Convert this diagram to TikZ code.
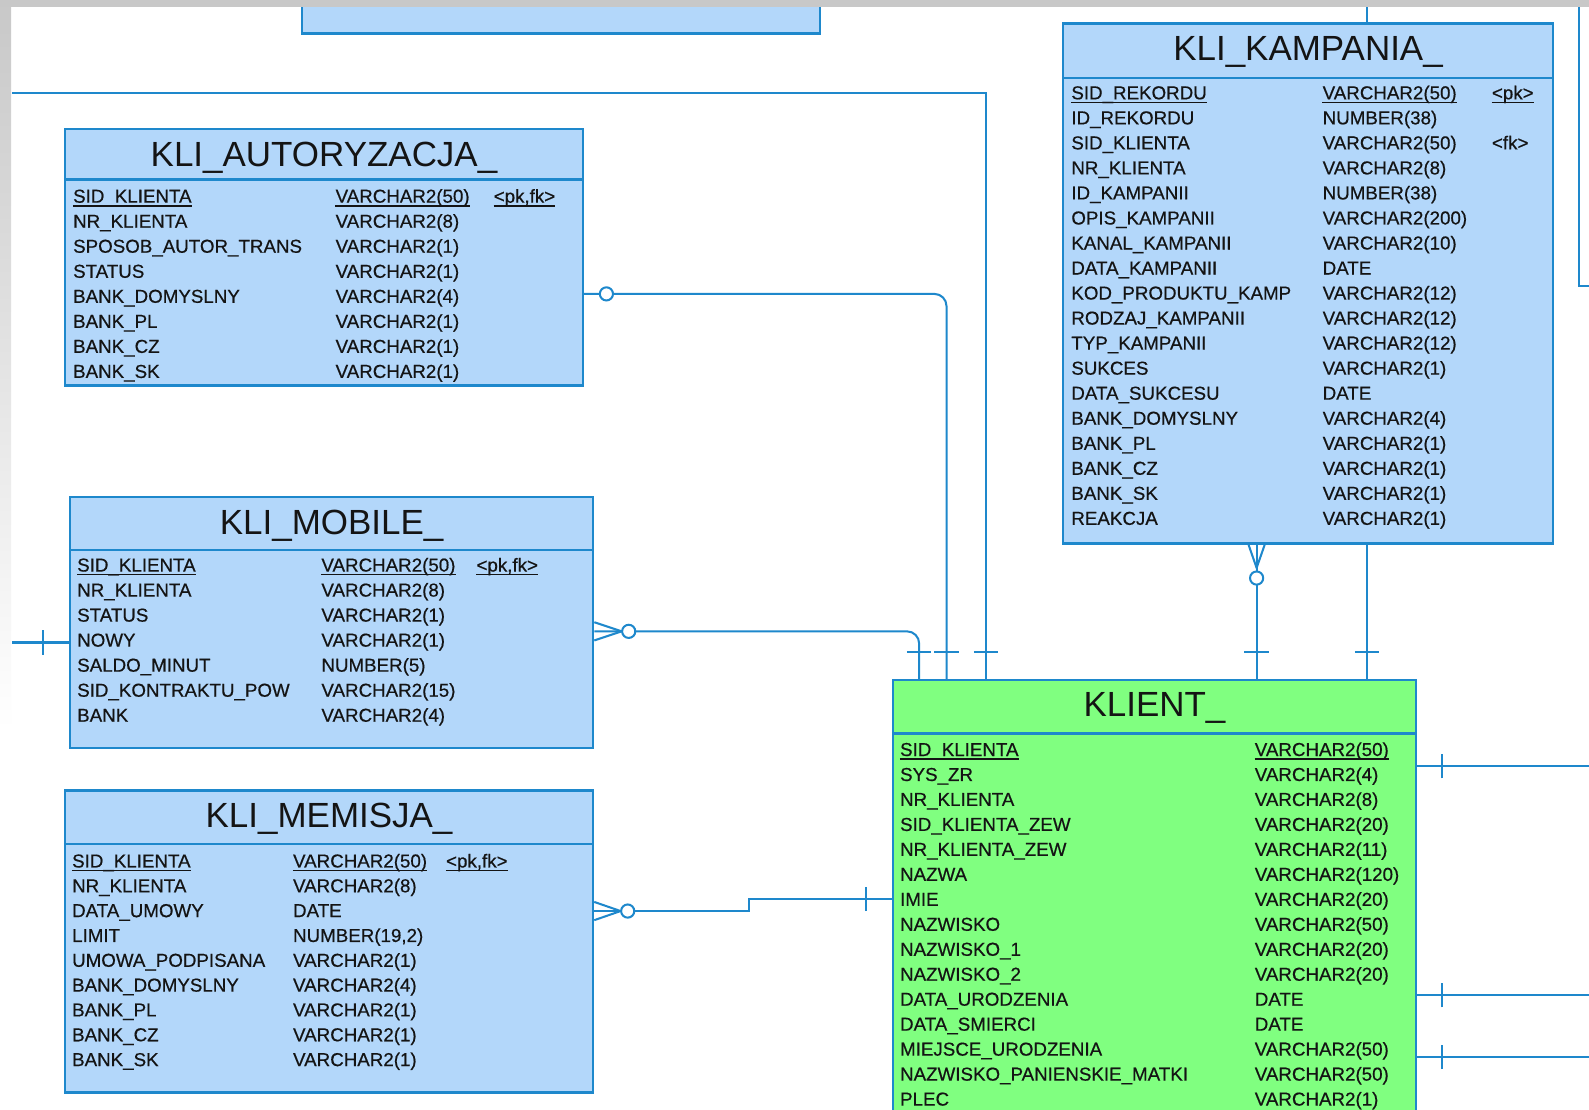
\documentclass[tikz,border=0pt]{standalone}
\usepackage{fontspec}
\setmainfont{Liberation Sans}
\newfontfamily\rowfont[FakeBold=0.5]{Liberation Sans}
\usetikzlibrary{calc}

\definecolor{tblfill}{RGB}{179,215,250}
\definecolor{tblline}{RGB}{30,136,204}
\definecolor{klfill}{RGB}{128,255,128}
\definecolor{chrome}{RGB}{200,200,200}
\definecolor{txt}{RGB}{20,20,20}

\tikzset{
  tbl/.style={draw=tblline, line width=2.4pt, fill=tblfill, inner sep=0pt, anchor=north west},
  kltbl/.style={tbl, fill=klfill},
  sep/.style={draw=tblline, line width=2.4pt},
  ttl/.style={inner sep=0pt, anchor=base, font=\fontsize{34.5}{38}\selectfont, text=txt},
  fld/.style={inner sep=0pt, anchor=base west, font=\rowfont\fontsize{18.5}{22}\selectfont, text=txt},
  conn/.style={draw=tblline, line width=2pt},
  ul/.style={draw=txt, line width=1.6pt},
  zero/.style={circle, draw=tblline, fill=white, line width=2pt, minimum size=13pt, inner sep=0pt},
}

% rows of a table: prefix, table node, name column, type column, first baseline, row pitch, list
\newcommand\fieldrows[7]{%
  \foreach \a/\b [count=\i] in {#7} {
    \node[fld] (#1-n\i) at ($(#2.north west)+(#3,#5+#6*\i)$) {\a};
    \node[fld] (#1-t\i) at ($(#2.north west)+(#4,#5+#6*\i)$) {\b};
  }}
\newcommand\pkline[1]{\draw[ul] ([yshift=-3pt]#1.base west) -- ([yshift=-3pt]#1.base east);}
\newcommand\barH[2]{\draw[conn] ([xshift=-12pt,yshift=#2]#1) -- ([xshift=12pt,yshift=#2]#1);}
\newcommand\barV[2]{\draw[conn] ([xshift=#2,yshift=-12pt]#1) -- ([xshift=#2,yshift=12pt]#1);}

\begin{document}
\begin{tikzpicture}[x=1pt,y=-1pt]
\useasboundingbox (0,0) rectangle (1568,1095);
\clip (0,0) rectangle (1568,1095);
\fill[white] (0,0) rectangle (1568,1095);

% ---- tables ----
\node[tbl, minimum width=511pt, minimum height=60pt] (upper) at (297,-28) {};

% KLI_AUTORYZACJA_
\node[tbl, minimum width=511pt, minimum height=253pt] (aut) at (63,126) {};
\draw[sep] ([yshift=-51pt]aut.north west) -- ([yshift=-51pt]aut.north east);
\node[ttl] (aut-h) at ([yshift=-38pt]aut.north) {KLI\_AUTORYZACJA\_};
\node[fld] (aut-n0) at ($(aut.north west)+(9,74)$) {SID\_KLIENTA};
\node[fld] (aut-t0) at ($(aut.north west)+(268,74)$) {VARCHAR2(50)};
\node[fld] (aut-k0) at ($(aut.north west)+(424,74)$) {<pk,fk>};
\pkline{aut-n0}\pkline{aut-t0}\pkline{aut-k0}
\fieldrows{aut}{aut}{9}{268}{74}{24.7}{NR\_KLIENTA/VARCHAR2(8), SPOSOB\_AUTOR\_TRANS/VARCHAR2(1), STATUS/VARCHAR2(1), BANK\_DOMYSLNY/VARCHAR2(4), BANK\_PL/VARCHAR2(1), BANK\_CZ/VARCHAR2(1), BANK\_SK/VARCHAR2(1)}

% KLI_MOBILE_
\node[tbl, minimum width=516pt, minimum height=248pt] (mob) at (68,489) {};
\draw[sep] ([yshift=-54pt]mob.north west) -- ([yshift=-54pt]mob.north east);
\node[ttl] (mob-h) at ([yshift=-38pt]mob.north) {KLI\_MOBILE\_};
\node[fld] (mob-n0) at ($(mob.north west)+(8,75)$) {SID\_KLIENTA};
\node[fld] (mob-t0) at ($(mob.north west)+(249,75)$) {VARCHAR2(50)};
\node[fld] (mob-k0) at ($(mob.north west)+(402,75)$) {<pk,fk>};
\pkline{mob-n0}\pkline{mob-t0}\pkline{mob-k0}
\fieldrows{mob}{mob}{8}{249}{75}{24.7}{NR\_KLIENTA/VARCHAR2(8), STATUS/VARCHAR2(1), NOWY/VARCHAR2(1), SALDO\_MINUT/NUMBER(5), SID\_KONTRAKTU\_POW/VARCHAR2(15), BANK/VARCHAR2(4)}

% KLI_MEMISJA_
\node[tbl, minimum width=521pt, minimum height=298pt] (mem) at (63,779) {};
\draw[sep] ([yshift=-54pt]mem.north west) -- ([yshift=-54pt]mem.north east);
\node[ttl] (mem-h) at ([yshift=-38pt]mem.north) {KLI\_MEMISJA\_};
\node[fld] (mem-n0) at ($(mem.north west)+(8,77)$) {SID\_KLIENTA};
\node[fld] (mem-t0) at ($(mem.north west)+(226,77)$) {VARCHAR2(50)};
\node[fld] (mem-k0) at ($(mem.north west)+(377,77)$) {<pk,fk>};
\pkline{mem-n0}\pkline{mem-t0}\pkline{mem-k0}
\fieldrows{mem}{mem}{8}{226}{77}{24.5}{NR\_KLIENTA/VARCHAR2(8), DATA\_UMOWY/DATE, LIMIT/{NUMBER(19,2)}, UMOWA\_PODPISANA/VARCHAR2(1), BANK\_DOMYSLNY/VARCHAR2(4), BANK\_PL/VARCHAR2(1), BANK\_CZ/VARCHAR2(1), BANK\_SK/VARCHAR2(1)}

% KLI_KAMPANIA_
\node[tbl, minimum width=483pt, minimum height=513pt] (kamp) at (1048,22) {};
\draw[sep] ([yshift=-55pt]kamp.north west) -- ([yshift=-55pt]kamp.north east);
\node[ttl] (kamp-h) at ([yshift=-38pt]kamp.north) {KLI\_KAMPANIA\_};
\node[fld] (kamp-n0) at ($(kamp.north west)+(9,76)$) {SID\_REKORDU};
\node[fld] (kamp-t0) at ($(kamp.north west)+(257,76)$) {VARCHAR2(50)};
\node[fld] (kamp-k0) at ($(kamp.north west)+(424,76)$) {<pk>};
\pkline{kamp-n0}\pkline{kamp-t0}\pkline{kamp-k0}
\fieldrows{kamp}{kamp}{9}{257}{76}{24.7}{ID\_REKORDU/NUMBER(38), SID\_KLIENTA/VARCHAR2(50), NR\_KLIENTA/VARCHAR2(8), ID\_KAMPANII/NUMBER(38), OPIS\_KAMPANII/VARCHAR2(200), KANAL\_KAMPANII/VARCHAR2(10), DATA\_KAMPANII/DATE, KOD\_PRODUKTU\_KAMP/VARCHAR2(12), RODZAJ\_KAMPANII/VARCHAR2(12), TYP\_KAMPANII/VARCHAR2(12), SUKCES/VARCHAR2(1), DATA\_SUKCESU/DATE, BANK\_DOMYSLNY/VARCHAR2(4), BANK\_PL/VARCHAR2(1), BANK\_CZ/VARCHAR2(1), BANK\_SK/VARCHAR2(1), REAKCJA/VARCHAR2(1)}
\node[fld] (kamp-k2) at ($(kamp.north west)+(424,76+2*24.7)$) {<fk>};

% KLIENT_
\node[kltbl, minimum width=516pt, minimum height=460pt] (kl) at (880,670) {};
\draw[sep] ([yshift=-54pt]kl.north west) -- ([yshift=-54pt]kl.north east);
\node[ttl] (kl-h) at ([yshift=-37pt]kl.north) {KLIENT\_};
\node[fld] (kl-n0) at ($(kl.north west)+(8,76)$) {SID\_KLIENTA};
\node[fld] (kl-t0) at ($(kl.north west)+(358,76)$) {VARCHAR2(50)};
\pkline{kl-n0}\pkline{kl-t0}
\fieldrows{kl}{kl}{8}{358}{76}{24.64}{SYS\_ZR/VARCHAR2(4), NR\_KLIENTA/VARCHAR2(8), SID\_KLIENTA\_ZEW/VARCHAR2(20), NR\_KLIENTA\_ZEW/VARCHAR2(11), NAZWA/VARCHAR2(120), IMIE/VARCHAR2(20), NAZWISKO/VARCHAR2(50), NAZWISKO\_1/VARCHAR2(20), NAZWISKO\_2/VARCHAR2(20), DATA\_URODZENIA/DATE, DATA\_SMIERCI/DATE, MIEJSCE\_URODZENIA/VARCHAR2(50), NAZWISKO\_PANIENSKIE\_MATKI/VARCHAR2(50), PLEC/VARCHAR2(1)}

% ---- attachment points ----
\coordinate (kt1) at ([xshift=27pt]kl.north west);
\coordinate (kt2) at ([xshift=54pt]kl.north west);
\coordinate (kt3) at ([xshift=93pt]kl.north west);
\coordinate (kt4) at ([xshift=360pt]kl.north west);
\coordinate (kt5) at ([xshift=469pt]kl.north west);
\coordinate (kb4) at (kt4 |- kamp.south);
\coordinate (kb5) at (kt5 |- kamp.south);
\coordinate (a-out) at ($(aut.north east)+(0,164)$);
\coordinate (m-out) at ($(mob.north east)+(0,134)$);
\coordinate (e-out) at ($(mem.north east)+(0,120)$);
\coordinate (kl-in) at ($(kl.north west)+(0,217)$);
\coordinate (top-w) at (12,92);
\coordinate (mob-w) at (12,634);
\coordinate (r-top) at (1558,0);
\coordinate (r-end) at (1572,282);

% ---- relationships ----
% long line along the top into KLIENT_
\draw[conn] (top-w) -| (kt3);
\barH{kt3}{27pt}

% KLI_AUTORYZACJA_ -> KLIENT_
\draw[conn, rounded corners=12pt] (a-out) -| (kt2);
\node[zero] (aut-z) at ([xshift=22pt]a-out) {};
\barH{kt2}{27pt}

% KLI_MOBILE_ -> KLIENT_
\draw[conn, rounded corners=12pt] (m-out) -| (kt1);
\draw[conn] ([yshift=9pt]m-out) -- ([xshift=27pt]m-out) -- ([yshift=-9pt]m-out);
\node[zero] (mob-z) at ([xshift=34pt]m-out) {};
\barH{kt1}{27pt}

% KLI_MOBILE_ from the left
\draw[conn] (mob-w) -- (mob.west |- mob-w);
\barV{mob-w}{30pt}

% KLI_MEMISJA_ -> KLIENT_
\draw[conn] (e-out) -- ([xshift=153pt]e-out) |- (kl-in);
\draw[conn] ([yshift=9pt]e-out) -- ([xshift=26pt]e-out) -- ([yshift=-9pt]e-out);
\node[zero] (mem-z) at ([xshift=33pt]e-out) {};
\barV{kl-in}{-25pt}

% KLI_KAMPANIA_ -> KLIENT_
\draw[conn] (kb4) -- (kt4);
\draw[conn] ([xshift=-8pt]kb4) -- ([yshift=-23pt]kb4) -- ([xshift=8pt]kb4);
\node[zero] (kamp-z) at ([yshift=-33pt]kb4) {};
\barH{kt4}{27pt}
\draw[conn] (kb5) -- (kt5);
\barH{kt5}{27pt}
\draw[conn] (kt5 |- kamp.north) -- ++(0,-30);

% lines leaving to the right
\draw[conn] (r-top) |- (r-end);
\foreach \dy [count=\j] in {86,312,373} {
  \coordinate (kr\j) at ($(kl.north east)+(0,\dy)$);
  \draw[conn] (kr\j) -- ++(180,0);
  \barV{kr\j}{25pt}
}

% window frame
\shade[top color=chrome, bottom color=white] (0,0) rectangle (11,720);
\fill[chrome] (0,0) rectangle (1568,7);
\end{tikzpicture}
\end{document}
